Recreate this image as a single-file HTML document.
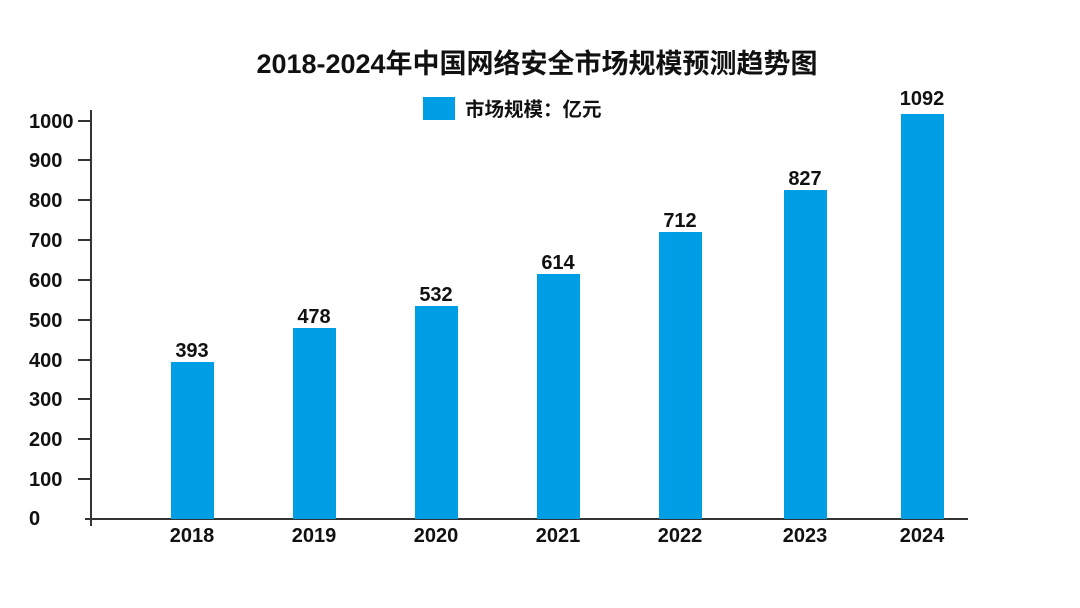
<!DOCTYPE html>
<html><head><meta charset="utf-8"><style>
html,body{margin:0;padding:0;background:#fff;}
svg{display:block;}
text{font-family:"Liberation Sans","Noto Sans CJK SC",sans-serif;font-weight:bold;fill:#111;}
</style></head><body>
<svg width="1080" height="608" viewBox="0 0 1080 608" xmlns="http://www.w3.org/2000/svg">
<text x="537" y="73" font-size="27" text-anchor="middle">2018-2024年中国网络安全市场规模预测趋势图</text>
<rect x="423" y="97" width="32" height="23" fill="#009fe5"/>
<text x="465" y="116" font-size="19.5">市场规模：亿元</text>
<g stroke="#333" stroke-width="2">
<line x1="91" y1="110" x2="91" y2="526"/>
<line x1="85" y1="519" x2="968" y2="519"/>
<line x1="78" y1="121" x2="91" y2="121"/>
<line x1="78" y1="160" x2="91" y2="160"/>
<line x1="78" y1="200" x2="91" y2="200"/>
<line x1="78" y1="240" x2="91" y2="240"/>
<line x1="78" y1="280" x2="91" y2="280"/>
<line x1="78" y1="320" x2="91" y2="320"/>
<line x1="78" y1="360" x2="91" y2="360"/>
<line x1="78" y1="399" x2="91" y2="399"/>
<line x1="78" y1="439" x2="91" y2="439"/>
<line x1="78" y1="479" x2="91" y2="479"/>
</g>
<g font-size="20">
<text x="29" y="128">1000</text>
<text x="29" y="167">900</text>
<text x="29" y="207">800</text>
<text x="29" y="247">700</text>
<text x="29" y="287">600</text>
<text x="29" y="327">500</text>
<text x="29" y="367">400</text>
<text x="29" y="406">300</text>
<text x="29" y="446">200</text>
<text x="29" y="486">100</text>
<text x="29" y="525">0</text>
</g>
<g fill="#009fe5">
<rect x="171" y="362" width="43" height="157"/>
<rect x="293" y="328" width="43" height="191"/>
<rect x="415" y="306" width="43" height="213"/>
<rect x="537" y="274" width="43" height="245"/>
<rect x="659" y="232" width="43" height="287"/>
<rect x="784" y="190" width="43" height="329"/>
<rect x="901" y="114" width="43" height="405"/>
</g>
<g font-size="20" text-anchor="middle">
<text x="192" y="357">393</text>
<text x="314" y="323">478</text>
<text x="436" y="301">532</text>
<text x="558" y="269">614</text>
<text x="680" y="227">712</text>
<text x="805" y="185">827</text>
<text x="922" y="105">1092</text>
<text x="192" y="542">2018</text>
<text x="314" y="542">2019</text>
<text x="436" y="542">2020</text>
<text x="558" y="542">2021</text>
<text x="680" y="542">2022</text>
<text x="805" y="542">2023</text>
<text x="922" y="542">2024</text>
</g>
</svg>
</body></html>
